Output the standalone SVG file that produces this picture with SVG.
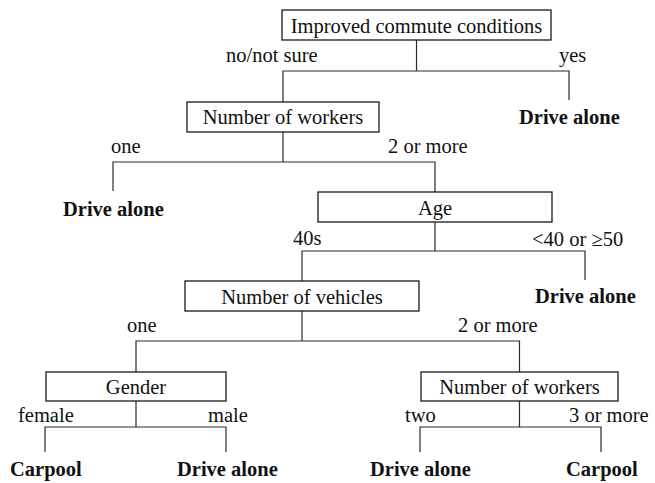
<svg xmlns="http://www.w3.org/2000/svg" width="655" height="483" viewBox="0 0 655 483">
  <style>
    .box { fill: #ffffff; stroke: #1a1a1a; stroke-width: 1.3; }
    .edge { fill: none; stroke: #2a2a2a; stroke-width: 1.2; }
    .t { font-family: 'Liberation Serif', 'DejaVu Serif', serif; font-size: 20.5px; fill: #111111; }
    .mid { text-anchor: middle; }
    .leaf { font-weight: bold; }
  </style>
  <rect width="655" height="483" fill="#ffffff"/>

  <!-- connectors -->
  <g id="connectors">
    <path class="edge" d="M416.5 40 V71 M283 102 V71 H569 V100"/>
    <path class="edge" d="M283 132 V162 M113 191 V162 H435 V192"/>
    <path class="edge" d="M435 222 V251 M302 281 V251 H585 V280"/>
    <path class="edge" d="M302 311 V341 M136 372 V341 H519.5 V372"/>
    <path class="edge" d="M136 401 V427 M45 452 V427 H226 V452"/>
    <path class="edge" d="M519.5 401 V427 M420 452 V427 H601 V452"/>
  </g>

  <g font-family="Liberation Serif, DejaVu Serif, serif" class="t">
    <!-- branch labels -->
    <g id="edge-labels">
      <text class="t" x="226" y="62">no/not sure</text>
      <text class="t" x="559" y="62">yes</text>
      <text class="t" x="111" y="153">one</text>
      <text class="t" x="388" y="153">2 or more</text>
      <text class="t" x="293" y="245">40s</text>
      <text class="t" x="532" y="246">&lt;40 or ≥50</text>
      <text class="t" x="127" y="332">one</text>
      <text class="t" x="458" y="332">2 or more</text>
      <text class="t" x="18" y="422">female</text>
      <text class="t" x="208" y="422">male</text>
      <text class="t" x="405" y="422">two</text>
      <text class="t" x="569" y="422">3 or more</text>
    </g>

    <!-- decision nodes -->
    <g id="n-commute">
      <rect class="box" x="282" y="10" width="269" height="30"/>
      <text class="t mid" x="416.5" y="33">Improved commute conditions</text>
    </g>
    <g id="n-workers1">
      <rect class="box" x="187" y="102" width="192" height="30"/>
      <text class="t mid" x="283" y="124">Number of workers</text>
    </g>
    <g id="n-age">
      <rect class="box" x="318" y="192" width="234" height="30"/>
      <text class="t mid" x="435" y="214.5">Age</text>
    </g>
    <g id="n-vehicles">
      <rect class="box" x="185" y="281" width="234" height="30"/>
      <text class="t mid" x="302" y="303.5">Number of vehicles</text>
    </g>
    <g id="n-gender">
      <rect class="box" x="46" y="372" width="180" height="29"/>
      <text class="t mid" x="136" y="393.5">Gender</text>
    </g>
    <g id="n-workers2">
      <rect class="box" x="421" y="372" width="197" height="29"/>
      <text class="t mid" x="519.5" y="393.5">Number of workers</text>
    </g>

    <!-- outcome leaves -->
    <g id="leaf-1"><text class="t leaf" x="519" y="124">Drive alone</text></g>
    <g id="leaf-2"><text class="t leaf" x="63" y="216">Drive alone</text></g>
    <g id="leaf-3"><text class="t leaf" x="535" y="303">Drive alone</text></g>
    <g id="leaf-4"><text class="t leaf" x="10" y="476">Carpool</text></g>
    <g id="leaf-5"><text class="t leaf" x="177" y="476">Drive alone</text></g>
    <g id="leaf-6"><text class="t leaf" x="370" y="476">Drive alone</text></g>
    <g id="leaf-7"><text class="t leaf" x="566" y="476">Carpool</text></g>
  </g>
</svg>
